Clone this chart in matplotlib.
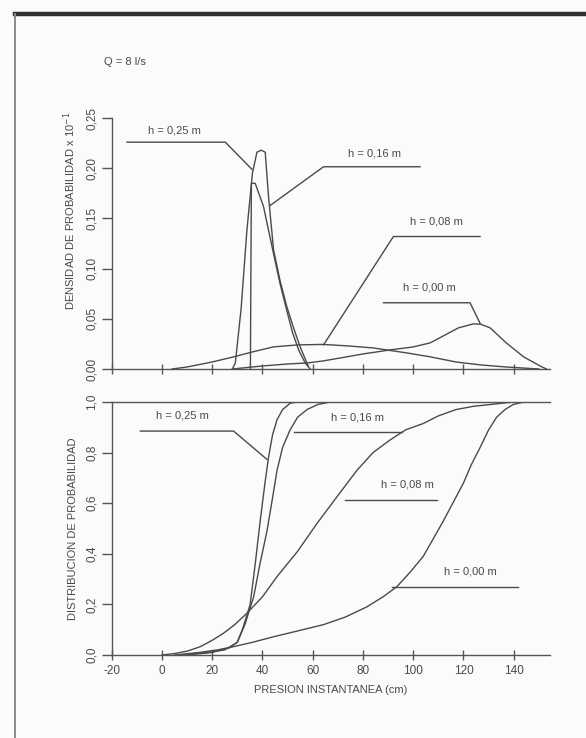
import numpy as np
import matplotlib
matplotlib.use("Agg")
import matplotlib.pyplot as plt
from matplotlib.lines import Line2D
from matplotlib.ticker import FuncFormatter

plt.rcParams['font.family'] = ['Liberation Sans', 'DejaVu Sans']
plt.rcParams['axes.unicode_minus'] = False
ink = '#4a4a4a'

# densidad de probabilidad (x 10^-1) para cada altura h
d25_x = [28, 29.2, 31.5, 33.8, 36, 37.8, 39.5, 41.1, 42.4, 44.4, 47, 49.7, 52.5, 55, 58.2]
d25_y = [0, 0.006, 0.06, 0.138, 0.195, 0.216, 0.218, 0.216, 0.172, 0.119, 0.088, 0.062, 0.04, 0.022, 0.003]
d16_x = [35.2, 35.4, 35.6, 37.1, 40.4, 44.4, 47, 49.7, 52, 54.4, 57, 59]
d16_y = [0, 0.1, 0.185, 0.185, 0.162, 0.115, 0.085, 0.058, 0.036, 0.019, 0.006, 0]
d08_x = [4, 10, 20, 28.4, 36, 44.3, 54, 64, 74, 84, 97.5, 107, 117, 127, 137, 150]
d08_y = [0, 0.002, 0.007, 0.012, 0.017, 0.022, 0.024, 0.0245, 0.023, 0.021, 0.016, 0.012, 0.007, 0.004, 0.002, 0]
d00_x = [28, 40, 50, 57.7, 64, 71, 80, 90.8, 100, 106.7, 112, 118, 124, 127, 130.6, 137, 144, 150.5, 153]
d00_y = [0, 0.003, 0.005, 0.006, 0.008, 0.011, 0.015, 0.019, 0.022, 0.026, 0.033, 0.041, 0.045, 0.0445, 0.041, 0.026, 0.012, 0.003, 0]

# distribucion de probabilidad acumulada
c25_x = [5, 15, 22, 27, 29.9, 32, 35.1, 37, 39.1, 41, 42.4, 44, 45.8, 48, 51, 54]
c25_y = [0, 0.01, 0.02, 0.03, 0.05, 0.1, 0.2, 0.35, 0.53, 0.68, 0.78, 0.87, 0.93, 0.97, 0.995, 1.0]
c16_x = [8, 18, 25, 30, 33, 36.5, 39, 41.8, 44, 45.8, 48, 51, 54, 57.7, 62, 67]
c16_y = [0, 0.01, 0.02, 0.05, 0.12, 0.23, 0.36, 0.49, 0.62, 0.73, 0.82, 0.89, 0.94, 0.97, 0.99, 1.0]
c08_x = [0, 4.6, 10, 15.3, 20, 24.5, 29, 33.8, 40, 45.8, 54, 61.7, 70, 77.6, 84, 90.8, 97, 104, 110, 117, 124, 130.6, 140]
c08_y = [0, 0.005, 0.015, 0.033, 0.058, 0.086, 0.12, 0.165, 0.23, 0.31, 0.41, 0.52, 0.63, 0.73, 0.80, 0.85, 0.89, 0.915, 0.945, 0.97, 0.983, 0.99, 1.0]
c00_x = [10, 20, 28.5, 36, 44.4, 54, 64.3, 73, 81.5, 88, 93.5, 99, 104, 108, 112, 116, 120, 123, 126.6, 130, 133.2, 136.5, 139.8, 144]
c00_y = [0, 0.01, 0.033, 0.05, 0.072, 0.095, 0.12, 0.15, 0.19, 0.23, 0.27, 0.33, 0.39, 0.46, 0.53, 0.605, 0.68, 0.75, 0.82, 0.89, 0.94, 0.97, 0.99, 1.0]

x_ticks = [-20, 0, 20, 40, 60, 80, 100, 120, 140]
dens_ticks = [0, 0.05, 0.10, 0.15, 0.20, 0.25]
dist_ticks = [0, 0.2, 0.4, 0.6, 0.8, 1.0]

# etiquetas: texto, posicion del texto, trazo de la guia
dens_labels = [
    ("h = 0,25 m", (4.9, 0.233), [(-13.9, 0.226), (25.2, 0.226), (35.8, 0.199)]),
    ("h = 0,16 m", (84.5, 0.210), [(102.7, 0.2015), (64.3, 0.2015), (43.1, 0.163)]),
    ("h = 0,08 m", (109.2, 0.142), [(126.6, 0.132), (92.1, 0.132), (64.3, 0.024)]),
    ("h = 0,00 m", (106.3, 0.076), [(88.2, 0.066), (122.6, 0.066), (126.6, 0.0455)]),
]
dist_labels = [
    ("h = 0,25 m", (8.3, 0.925), [(-8.6, 0.885), (28.5, 0.885), (41.8, 0.773)]),
    ("h = 0,16 m", (77.9, 0.918), [(52.4, 0.88), (95.5, 0.88)]),
    ("h = 0,08 m", (97.8, 0.655), [(72.9, 0.613), (109.4, 0.613)]),
    ("h = 0,00 m", (122.6, 0.312), [(91.5, 0.268), (141.8, 0.268)]),
]

fig = plt.figure(figsize=(5.86, 7.38), dpi=100)
fig.patch.set_facecolor('#fbfbfb')

# marco de la pagina
fig.add_artist(Line2D([0.026, 1.0], [0.981, 0.981], color='#303030', lw=3.2))
fig.add_artist(Line2D([0.026, 0.026], [0.0, 0.981], color='#8a8a8a', lw=1.4))

ax1 = fig.add_axes([0.1906, 0.5, 0.7483, 0.340])
ax2 = fig.add_axes([0.1906, 0.1125, 0.7483, 0.3428])

for ax in (ax1, ax2):
    ax.set_facecolor('none')
    ax.set_xlim(-20, 154.5)
    ax.set_xticks(x_ticks)
    ax.spines['right'].set_visible(False)
    for s in ('left', 'bottom', 'top'):
        ax.spines[s].set_color('#555555')
        ax.spines[s].set_linewidth(1.0)
    ax.tick_params(axis='y', direction='out', length=7, width=1, color='#555555',
                   labelcolor=ink, labelsize=8.5, labelrotation=90, pad=3)
    ax.tick_params(axis='x', direction='inout', length=7, width=1, color='#555555',
                   labelcolor=ink, labelsize=8.5)
    for lab in ax.get_yticklabels():
        lab.set_va('center')

lc = '#4a4a4a'
ax1.spines['top'].set_visible(False)
ax1.set_ylim(0, 0.25)
ax1.set_yticks(dens_ticks)
ax1.yaxis.set_major_formatter(FuncFormatter(lambda v, p: f"{v:.2f}".replace('.', ',')))
ax1.tick_params(axis='x', labelbottom=False)
for xs, ys in [(d25_x, d25_y), (d16_x, d16_y), (d08_x, d08_y), (d00_x, d00_y)]:
    ax1.plot(xs, ys, color=lc, lw=1.0)
ax1.set_ylabel("DENSIDAD DE PROBABILIDAD x 10$^{-1}$", fontsize=8, color=ink)
ax1.yaxis.set_label_coords(-0.077, 0.63)

ax2.set_ylim(0, 1.0)
ax2.set_yticks(dist_ticks)
ax2.yaxis.set_major_formatter(FuncFormatter(lambda v, p: f"{v:.1f}".replace('.', ',')))
ax2.xaxis.set_major_formatter(FuncFormatter(lambda v, p: f"{v:.0f}"))
for xs, ys in [(c25_x, c25_y), (c16_x, c16_y), (c08_x, c08_y), (c00_x, c00_y)]:
    ax2.plot(xs, ys, color=lc, lw=1.0)
ax2.set_ylabel("DISTRIBUCION DE PROBABILIDAD", fontsize=8, color=ink)
ax2.yaxis.set_label_coords(-0.077, 0.5)
ax2.set_xlabel("PRESION INSTANTANEA (cm)", fontsize=8, color=ink, labelpad=6)

for ax, labels in ((ax1, dens_labels), (ax2, dist_labels)):
    for txt, (tx, ty), path in labels:
        ax.text(tx, ty, txt, fontsize=8, color=ink, ha='center', va='bottom')
        px, py = zip(*path)
        ax.plot(px, py, color=lc, lw=1.0, clip_on=False)

fig.text(0.213, 0.916, "Q = 8 l/s", fontsize=8, color=ink, ha='center', va='center')

fig.savefig("out.png", dpi=100, facecolor=fig.get_facecolor())
